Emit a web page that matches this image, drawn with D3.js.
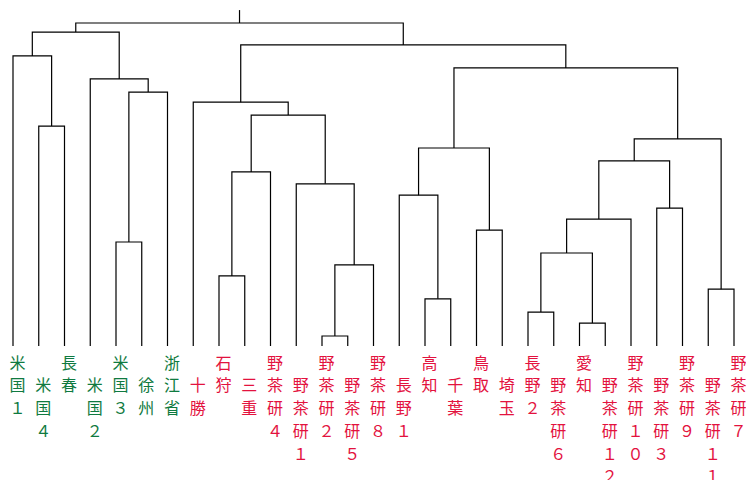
<!DOCTYPE html>
<html>
<head>
<meta charset="utf-8">
<script src="https://cdn.jsdelivr.net/npm/d3@7"></script>
<style>
  html, body { margin: 0; padding: 0; background: #ffffff; }
  svg { display: block; }
</style>
</head>
<body>
<script>
// Leaf labels in plotted order
const leaves = ["米国１","米国４","長春","米国２","米国３","徐州","浙江省","十勝","石狩","三重",
  "野茶研４","野茶研１","野茶研２","野茶研５","野茶研８","長野１","高知","千葉","鳥取","埼玉",
  "長野２","野茶研６","愛知","野茶研１２","野茶研１０","野茶研３","野茶研９","野茶研１１","野茶研７"];
// Group of each leaf (0 = foreign/green, 1 = domestic/red)
const groups = [0,0,0,0,0,0,0,1,1,1,1,1,1,1,1,1,1,1,1,1,1,1,1,1,1,1,1,1,1];
// Merge steps (hclust convention: negative = leaf -(index+1), positive = earlier step)
const mergeLeft  = [-13,-23,-21,-17,-28,-9, 1, 3,-5,-19, 8,-26,-16,-12, 6,11,13,16,-2,15,-8,9,-4,17,-1,21,25,27];
const mergeRight = [-14,-24,-22,-18,-29,-10,-15, 2,-6,-20,-25,-27, 4, 7,-11,12,10, 5,-3,14,20,-7,22,18,19,24,23,26];
const mergeHeight = [3.1,7.1,10.5,14.6,17.6,21.7,25.1,28.8,32.2,35.9,39.3,42.7,46.7,50.2,53.9,57.3,61.3,64.1,68.1,71.5,75.5,78.6,82.7,86.1,89.8,93.2,97.2,100];
const colors = ["#0f7a40", "#e3123e"];

const W = 746, H = 480;
const svg = d3.select("body").append("svg").attr("width", W).attr("height", H);
svg.append("rect").attr("width", W).attr("height", H).attr("fill", "#fff");

const x = d3.scalePoint().domain(d3.range(leaves.length)).range([13, 734]);
const y = d3.scaleLinear().domain([0, 100]).range([346, 23]);

// Build nested structure
function build(ref) {
  if (ref < 0) return { leaf: -ref - 1, height: 0 };
  const i = ref - 1;
  return { height: mergeHeight[i], children: [build(mergeLeft[i]), build(mergeRight[i])] };
}
const root = d3.hierarchy(build(mergeLeft.length));
root.eachAfter(n => {
  n.h = n.data.height;
  if (n.children) n.px = (n.children[0].px + n.children[1].px) / 2;
  else n.px = x(n.data.leaf);
});

const g = svg.append("g").attr("fill", "none").attr("stroke", "#000").attr("stroke-width", 1.2);
root.each(n => {
  if (!n.children) return;
  const [a, b] = n.children;
  g.append("path").attr("d",
    `M${a.px},${y(a.h)}V${y(n.h)}H${b.px}V${y(b.h)}`);
});
// root stub
g.append("path").attr("d", `M${root.px},${y(root.h)}V${y(root.h + 4)}`);

// Vertical stacked labels
const lab = svg.append("g")
  .attr("font-family", "'Noto Sans CJK JP', 'Noto Sans CJK SC', sans-serif")
  .attr("font-size", 16)
  .attr("text-anchor", "middle");
leaves.forEach((name, i) => {
  const chars = Array.from(name);
  chars.forEach((c, k) => {
    lab.append("text")
      .attr("x", x(i) + 4.5)
      .attr("y", 361.7 + 22.7 * (k + (i % 2)))
      .attr("dominant-baseline", "central")
      .attr("fill", colors[groups[i]])
      .text(c);
  });
});
</script>
</body>
</html>
